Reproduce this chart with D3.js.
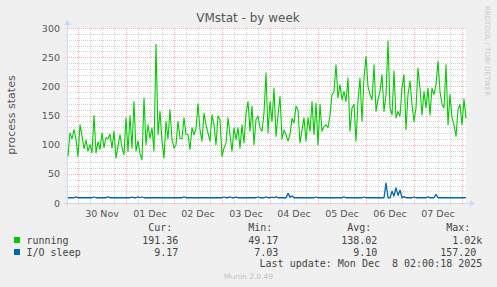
<!DOCTYPE html>
<html>
<head>
<meta charset="utf-8">
<script src="https://cdn.jsdelivr.net/npm/d3@7"></script>
<style>
  body { margin: 0; background: #f0f0f0; }
  svg { display: block; }
  text { font-family: "DejaVu Sans", sans-serif; fill: #555; }
  .mono { font-family: "DejaVu Sans Mono", monospace; white-space: pre; font-size: 10px; fill: #444; }
</style>
</head>
<body>
<div id="chart"></div>
<script>
// Data

const startTime = Date.UTC(2025, 10, 29, 19);                                 // first sample, one sample per hour
const running = [
  80, 120, 110, 126, 109, 80, 134, 115, 93, 108, 89, 100, 86, 150, 86, 105, 92, 120, 95, 112,
  110, 118, 94, 123, 77, 98, 117, 95, 83, 146, 88, 150, 94, 174, 89, 106, 85, 74, 180, 100,
  134, 111, 129, 89, 272, 117, 157, 106, 77, 140, 110, 160, 109, 94, 100, 140, 111, 110, 146, 118,
  117, 92, 129, 117, 128, 170, 125, 106, 154, 134, 120, 106, 151, 134, 100, 149, 143, 80, 94, 103,
  146, 117, 89, 129, 109, 129, 94, 134, 103, 154, 174, 123, 166, 100, 143, 149, 129, 123, 154, 223,
  120, 174, 140, 197, 114, 150, 183, 110, 125, 117, 106, 117, 145, 137, 166, 160, 103, 125, 146, 106,
  146, 123, 174, 117, 171, 100, 169, 123, 131, 134, 129, 151, 186, 191, 237, 180, 203, 177, 191, 174,
  214, 123, 163, 169, 106, 174, 214, 140, 214, 251, 200, 186, 177, 237, 157, 178, 191, 220, 157, 186,
  278, 163, 151, 226, 146, 157, 149, 197, 220, 126, 186, 209, 169, 140, 163, 231, 197, 151, 191, 163,
  197, 151, 197, 186, 203, 243, 191, 169, 163, 237, 134, 186, 146, 134, 114, 160, 169, 134, 178, 145
];
const ioSleep = [
  9, 9, 9, 9, 10.5, 9, 9, 9, 9, 9, 9, 9, 9, 10.3, 9, 9, 9, 9, 9, 9,
  10.5, 9, 9, 9, 9, 9, 9, 9, 9, 9, 9, 9, 10.2, 9, 9, 10.5, 9, 10.3, 9, 9,
  9, 9, 9, 9, 9, 9, 9, 9, 9, 9, 9, 9, 9, 9, 9, 9, 9, 9, 10.5, 9,
  9, 9, 9, 9, 9, 9, 9, 9, 9, 9, 9, 9, 9, 9, 9, 9, 9, 9, 10.3, 9,
  9, 10.5, 9, 9, 10.2, 9, 9, 9, 9, 9, 9, 9, 9, 9, 9, 10.3, 9, 9, 9, 10.5,
  9, 9, 10.2, 9, 10.5, 9, 9, 9, 9, 9, 16.5, 10, 12, 9, 9, 9, 9, 9, 9, 9,
  9, 9, 9, 9, 10.3, 9, 9, 9, 9, 9, 9, 9, 9, 9, 9, 9, 9, 9, 10.5, 9,
  9, 9, 9, 9, 9, 9, 9, 9, 10.3, 9, 9, 9, 9, 9, 9, 9, 9, 9, 9, 34,
  9, 9, 20, 12, 26, 13, 22, 9, 11, 9, 9, 9, 9, 10.3, 9, 9, 9, 9, 9, 9,
  10.5, 9, 9, 9, 15, 9, 9, 9, 9, 9, 9, 9, 9, 9, 9, 9, 9, 9, 9, 9.2
];
const yTicks = [0, 50, 100, 150, 200, 250, 300];
const seriesNames = ["running", "I/O sleep"];
const seriesColors = ["#00cc00", "#0066b3"];
const legendHeaders = ["Cur:", "Min:", "Avg:", "Max:"];
const runningStats = ["191.36", "49.17", "138.02", "1.02k"];
const ioSleepStats = ["9.17", "7.03", "9.10", "157.20"];
const lastUpdate = "Last update: Mon Dec  8 02:00:18 2025";

// Canvas and scales

const W = 497, H = 287;
const plot = {left: 67, right: 466, top: 28, bottom: 203};

const svg = d3.select("#chart").append("svg")
    .attr("width", W)
    .attr("height", H);

const x = d3.scaleUtc()
    .domain([new Date(Date.UTC(2025, 10, 29, 18, 30)), new Date(Date.UTC(2025, 11, 8, 2, 0))])
    .range([plot.left, plot.right]);
const y = d3.scaleLinear().domain([0, 300]).range([plot.bottom, plot.top]);

const times = running.map((d, i) => new Date(startTime + i * 3600e3));

svg.append("rect")                                                            // white canvas
    .attr("x", plot.left).attr("y", plot.top)
    .attr("width", plot.right - plot.left).attr("height", plot.bottom - plot.top)
    .attr("fill", "#fff");

// Grid

const minorY = d3.range(0, 301, 10).filter(v => v % 50 !== 0);
const days = d3.utcDay.range(x.domain()[0], x.domain()[1]);
const minorX = d3.utcHour.every(6).range(x.domain()[0], x.domain()[1]).filter(d => d.getUTCHours() !== 0);

const grid = svg.append("g").attr("shape-rendering", "crispEdges");
grid.selectAll(".hmin").data(minorY).enter().append("line")
    .attr("x1", plot.left - 2).attr("x2", plot.right)
    .attr("y1", d => Math.round(y(d)) + 0.5).attr("y2", d => Math.round(y(d)) + 0.5)
    .attr("stroke", "#d4d4d4").attr("stroke-dasharray", "1,1");
grid.selectAll(".vmin").data(minorX).enter().append("line")
    .attr("x1", d => Math.round(x(d)) + 0.5).attr("x2", d => Math.round(x(d)) + 0.5)
    .attr("y1", plot.top).attr("y2", plot.bottom + 2)
    .attr("stroke", "#d4d4d4").attr("stroke-dasharray", "1,1");
grid.selectAll(".hmaj").data(yTicks).enter().append("line")
    .attr("x1", plot.left - 2).attr("x2", plot.right)
    .attr("y1", d => Math.round(y(d)) + 0.5).attr("y2", d => Math.round(y(d)) + 0.5)
    .attr("stroke", "#f2b4b4").attr("stroke-dasharray", "1,1");
grid.selectAll(".vmaj").data(days).enter().append("line")
    .attr("x1", d => Math.round(x(d)) + 0.5).attr("x2", d => Math.round(x(d)) + 0.5)
    .attr("y1", plot.top).attr("y2", plot.bottom + 3)
    .attr("stroke", "#f2b4b4").attr("stroke-dasharray", "1,1");

// Axes with arrows

const axisColor = "#cfd6f8";
svg.append("line")
    .attr("x1", plot.left - 3).attr("x2", plot.right + 5)
    .attr("y1", plot.bottom + 0.5).attr("y2", plot.bottom + 0.5)
    .attr("stroke", axisColor);
svg.append("line")
    .attr("x1", plot.left + 0.5).attr("x2", plot.left + 0.5)
    .attr("y1", plot.bottom + 3).attr("y2", plot.top - 4)
    .attr("stroke", axisColor);
svg.append("path")
    .attr("d", `M${plot.right + 9},${plot.bottom + 0.5}l-5,-3.5v7z`)
    .attr("fill", axisColor);
svg.append("path")
    .attr("d", `M${plot.left + 0.5},${plot.top - 8}l-3.5,5h7z`)
    .attr("fill", axisColor);

// Tick labels

svg.selectAll(".ylab").data(yTicks).enter().append("text")
    .attr("x", 60).attr("y", d => y(d) + 3.5)
    .attr("text-anchor", "end")
    .style("font-size", "9.5px")
    .text(d => d);

const fmt = d3.utcFormat("%d %b");
const noons = days.map(d => new Date(+d + 12 * 3600e3)).filter(d => d > x.domain()[0] && d < x.domain()[1]);
svg.selectAll(".xlab").data(noons).enter().append("text")
    .attr("x", d => x(d)).attr("y", 217)
    .attr("text-anchor", "middle")
    .style("font-size", "9.5px")
    .text(d => fmt(d));

// Titles

svg.append("text")
    .attr("x", 248).attr("y", 22)
    .attr("text-anchor", "middle")
    .style("font-size", "12px")
    .text("VMstat - by week");

svg.append("text")
    .attr("transform", "translate(15,115) rotate(-90)")
    .attr("text-anchor", "middle")
    .style("font-size", "11px")
    .text("process states");

svg.append("text")
    .attr("transform", "translate(485,6) rotate(90)")
    .style("font-size", "7px")
    .style("fill", "#c8c8c8")
    .text("RRDTOOL / TOBI OETIKER");

// Series lines

const line = d3.line()
    .x((d, i) => x(times[i]))
    .y(d => y(d));

[running, ioSleep].forEach((series, k) => {
    svg.append("path")
        .datum(series)
        .attr("fill", "none")
        .attr("stroke", seriesColors[k])
        .attr("stroke-width", k === 0 ? 1.1 : 1.3)
        .attr("stroke-linejoin", "round")
        .attr("d", line);
});

// Legend

const colEnds = [178.3, 278.3, 377.3, 482.3];
svg.selectAll(".hdr").data(legendHeaders).enter().append("text")
    .attr("class", "mono")
    .attr("x", (d, i) => colEnds[i] - (i === 3 ? 12 : 6))
    .attr("y", 230.5)
    .attr("text-anchor", "end")
    .text(d => d);

[runningStats, ioSleepStats].forEach((stats, k) => {
    const rowY = 243.5 + k * 12;
    svg.append("rect")
        .attr("x", 14).attr("y", rowY - 6.5)
        .attr("width", 6).attr("height", 6)
        .attr("fill", seriesColors[k]);
    svg.append("text")
        .attr("class", "mono")
        .attr("x", 26.5).attr("y", rowY)
        .text(seriesNames[k]);
    svg.selectAll(".stat" + k).data(stats).enter().append("text")
        .attr("class", "mono")
        .attr("x", (d, i) => colEnds[i] - (i === 3 && !d.endsWith("k") ? 6 : 0))
        .attr("y", rowY)
        .attr("text-anchor", "end")
        .text(d => d);
});

svg.append("text")
    .attr("class", "mono")
    .attr("x", 482.3).attr("y", 267)
    .attr("text-anchor", "end")
    .text(lastUpdate);

svg.append("text")
    .attr("x", 248.5).attr("y", 278.5)
    .attr("text-anchor", "middle")
    .style("font-size", "7.5px")
    .style("fill", "#c0c0c0")
    .text("Munin 2.0.49");
</script>
</body>
</html>
